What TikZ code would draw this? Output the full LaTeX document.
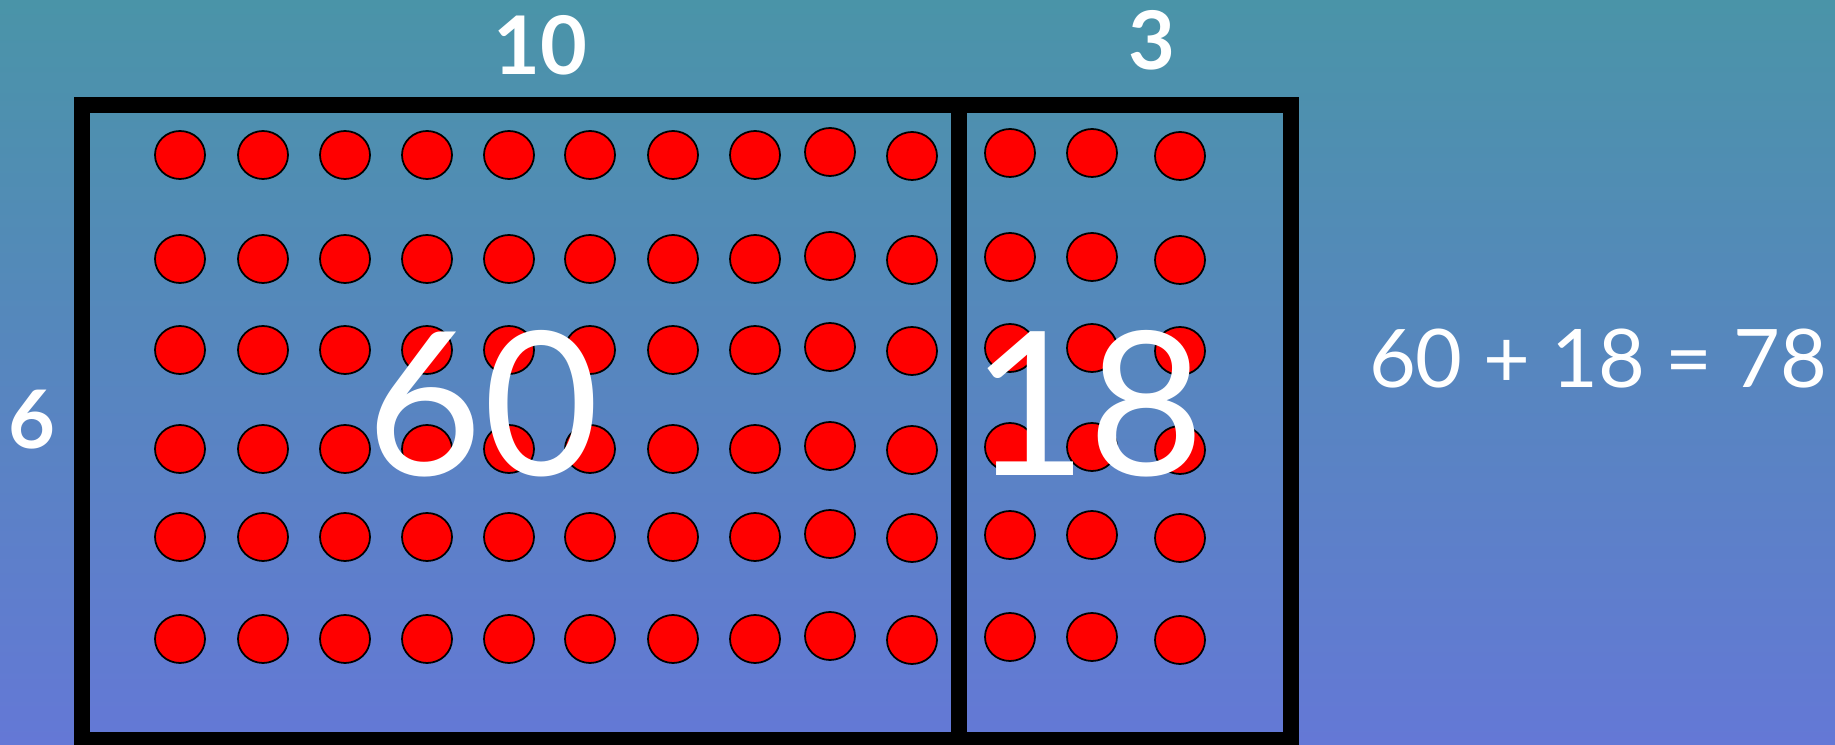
\documentclass[tikz,border=0pt]{standalone}
\usepackage{fontspec}
\setmainfont{Lato}
\usepackage{tikz}

\definecolor{bgtop}{RGB}{74,148,168}
\definecolor{bgbot}{RGB}{100,120,214}

\tikzset{
	dot/.style={draw=black, fill=red, line width=0.5pt},
	numlabel/.style={text=white, font=\bfseries\fontsize{23}{26}\selectfont},
	bignum/.style={text=white, font=\fontsize{57}{62}\selectfont},
}

\begin{document}
\begin{tikzpicture}
	\useasboundingbox (0, 0) rectangle (18.35, 7.45);
	\shade [top color=bgtop, bottom color=bgbot] (0, 0) rectangle (18.35, 7.45);
	\foreach \x/\dy in {1.80/0, 2.63/0, 3.45/0, 4.27/0, 5.09/0, 5.90/0, 6.73/0, 7.55/0, 8.30/0.03, 9.12/-0.01, 10.10/0.02, 10.92/0.02, 11.80/-0.01}
		\foreach \y in {5.90, 4.86, 3.95, 2.96, 2.08, 1.06}
			\draw [dot] (\x, \y + \dy) ellipse (0.25 and 0.24);
	\draw [line width=4.3pt] (0.82, 6.40) rectangle (12.91, 0.05);
	\draw [line width=4.3pt] (9.59, 6.40) -- (9.59, 0.05);
	\node [numlabel] (ten) at (5.40, 7.00) {10};
	\node [numlabel] (three) at (11.52, 7.05) {3};
	\node [numlabel] (six) at (0.32, 3.25) {6};
	\node [bignum] (sixty) at (4.83, 3.41) {60};
	\node [bignum] (eighteen) at (10.88, 3.41) {18};
	\node [text=white, font=\fontsize{23}{26}\selectfont] (sum) at (15.98, 3.86) {60 + 18 = 78};
\end{tikzpicture}
\end{document}
